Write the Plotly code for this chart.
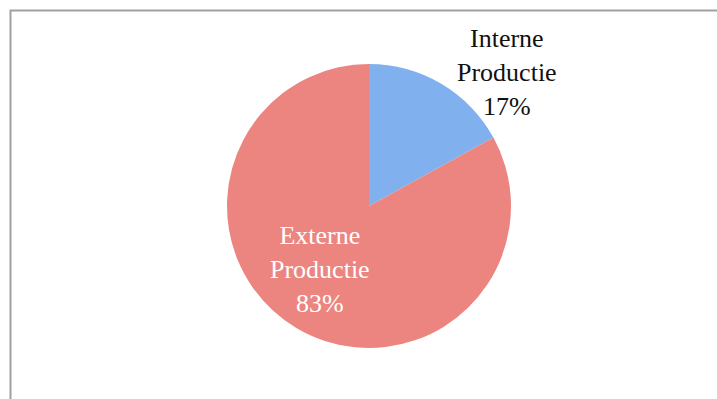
import plotly.graph_objects as go

# Share of production, in percent
labels = ["Interne<br>Productie", "Externe<br>Productie"]
values = [17, 83]
colors = ["#80b1ee", "#ec8580"]
text_colors = ["#111111", "#ffffff"]

W, H = 717, 399
cx, cy, r = 369, 206, 142  # pie centre and radius in pixels

fig = go.Figure()
fig.add_trace(go.Pie(
    labels=labels,
    values=values,
    sort=False,
    direction="clockwise",
    rotation=0,
    textinfo="none",
    hoverinfo="label+percent",
    marker=dict(colors=colors, line=dict(width=0)),
    domain=dict(x=[(cx - r) / W, (cx + r) / W],
                y=[1 - (cy + r) / H, 1 - (cy - r) / H]),
    showlegend=False,
))

total = sum(values)
label_pos = [(507, 72), (320, 269)]
for lab, v, col, (px, py) in zip(labels, values, text_colors, label_pos):
    fig.add_annotation(
        x=px / W, y=1 - py / H, xref="paper", yref="paper",
        xanchor="center", yanchor="middle",
        text=f"{lab}<br>{round(100 * v / total)}%",
        showarrow=False, align="center",
        font=dict(family="Liberation Serif", size=26, color=col),
    )

# Chart-area frame
fig.add_shape(type="rect", xref="paper", yref="paper",
              x0=10.5 / W, x1=1.05, y0=-0.05, y1=1 - 10.5 / H,
              line=dict(color="#a0a0a0", width=2), fillcolor="rgba(0,0,0,0)")

fig.update_layout(
    width=W, height=H,
    margin=dict(l=0, r=0, t=0, b=0),
    paper_bgcolor="white", plot_bgcolor="white",
)

fig.write_html("out.html")
